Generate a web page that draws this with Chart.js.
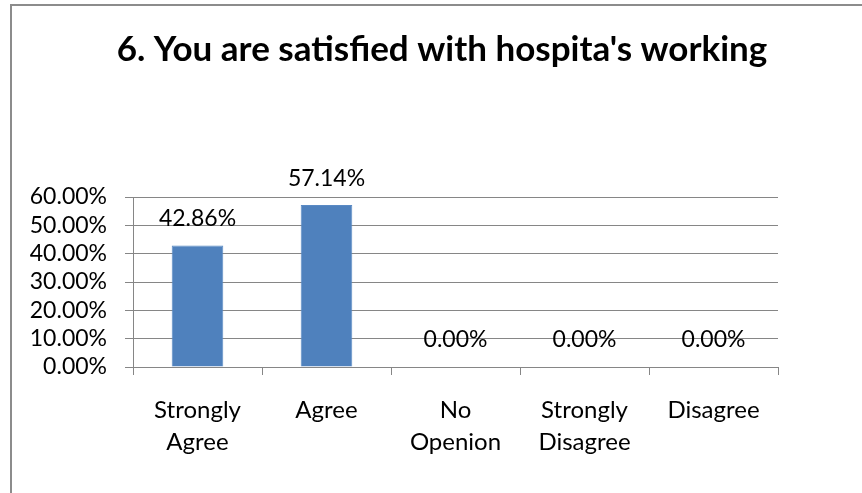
<!DOCTYPE html>
<html>
<head>
<meta charset="utf-8">
<script src="https://cdn.jsdelivr.net/npm/chart.js@4"></script>
<style>
  html, body { margin: 0; padding: 0; background: #ffffff; }
  #wrap { position: relative; width: 862px; height: 493px; overflow: hidden; }
  #frame { position: absolute; left: 10px; top: 4px; width: 900px; height: 560px; border: 2px solid #8c8c8c; box-sizing: border-box; }
  canvas { position: absolute; left: 0; top: 0; }
</style>
</head>
<body>
<div id="wrap">
  <div id="frame"></div>
  <canvas id="c" width="862" height="493"></canvas>
</div>
<script>
const titleText = "6. You are satisfied with hospita's working";
const categories = [["Strongly", "Agree"], "Agree", ["No", "Openion"], ["Strongly", "Disagree"], "Disagree"];
const percentValues = [42.86, 57.14, 0, 0, 0];
const yTickValues = [0, 10, 20, 30, 40, 50, 60];

const FONT = "Lato, 'Liberation Sans', sans-serif";
const gridColor = "#868686";

const chartTitle = {
  id: "chartTitle",
  afterDraw(chart) {
    const ctx = chart.ctx;
    ctx.save();
    ctx.font = "bold 35px " + FONT;
    ctx.fillStyle = "#000000";
    ctx.textAlign = "center";
    ctx.textBaseline = "alphabetic";
    ctx.fillText(titleText, 442, 61);
    ctx.restore();
  }
};

const valueLabels = {
  id: "valueLabels",
  afterDatasetsDraw(chart) {
    const ctx = chart.ctx;
    const meta = chart.getDatasetMeta(0);
    ctx.save();
    ctx.font = "23px " + FONT;
    ctx.fillStyle = "#000000";
    ctx.textAlign = "center";
    ctx.textBaseline = "middle";
    meta.data.forEach((bar, i) => {
      ctx.fillText(percentValues[i].toFixed(2) + "%", bar.x, bar.y - 27);
    });
    ctx.restore();
  }
};

new Chart(document.getElementById("c"), {
  type: "bar",
  data: {
    labels: categories,
    datasets: [{
      data: percentValues,
      backgroundColor: "#4F81BD",
      borderColor: "#5a8ac4",
      borderWidth: 1,
      barPercentage: 0.4,
      categoryPercentage: 1.0
    }]
  },
  options: {
    responsive: false,
    animation: false,
    devicePixelRatio: 1,
    layout: { padding: { left: 0, right: 84, top: 197, bottom: 0 } },
    plugins: {
      legend: { display: false },
      tooltip: { enabled: false },
      title: { display: false }
    },
    scales: {
      x: {
        offset: true,
        grid: { display: true, drawOnChartArea: false, drawTicks: true, tickLength: 8, color: gridColor, offset: true },
        border: { display: true, color: gridColor, width: 1 },
        ticks: {
          color: "#000000",
          font: { family: FONT, size: 24, lineHeight: 1.333 },
          padding: 19,
          maxRotation: 0,
          autoSkip: false
        },
        afterFit(scale) { scale.height = 126; }
      },
      y: {
        min: 0,
        max: 60,
        afterBuildTicks(scale) { scale.ticks = yTickValues.map(v => ({ value: v })); },
        grid: { color: gridColor, tickLength: 8, drawTicks: true },
        border: { display: true, color: gridColor, width: 1 },
        ticks: {
          color: "#000000",
          font: { family: FONT, size: 23 },
          padding: 18,
          autoSkip: false,
          callback: (v) => v.toFixed(2) + "%"
        },
        afterFit(scale) { scale.width = 133; }
      }
    }
  },
  plugins: [valueLabels, chartTitle]
});
</script>
</body>
</html>
